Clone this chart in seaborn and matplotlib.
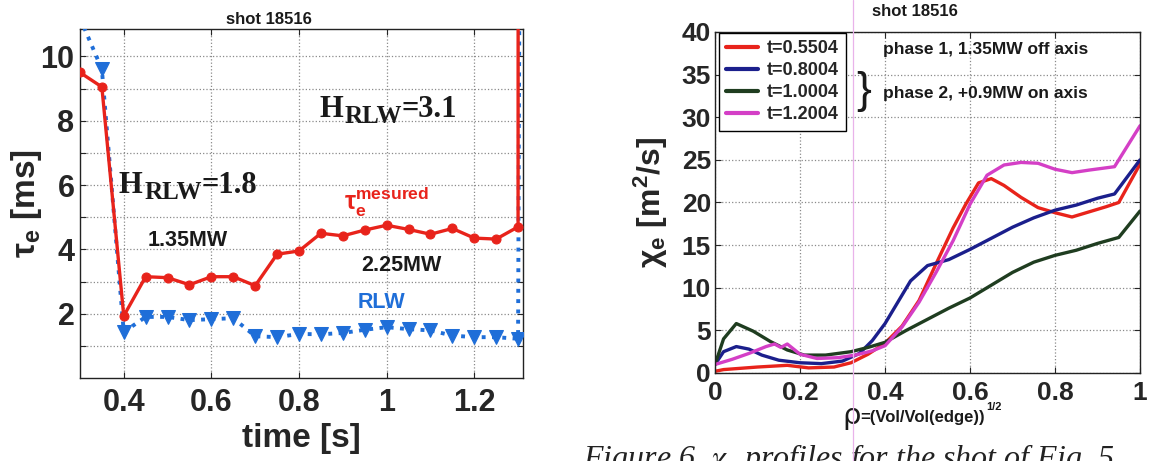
import matplotlib
matplotlib.use("Agg")
import matplotlib.pyplot as plt
import seaborn as sns
from matplotlib.lines import Line2D

# ---------------- energy confinement time, shot 18516 ----------------
time_s = [0.30, 0.35, 0.40, 0.45, 0.50, 0.55, 0.60, 0.65, 0.70, 0.75, 0.80,
          0.85, 0.90, 0.95, 1.00, 1.05, 1.10, 1.15, 1.20, 1.25, 1.30]
tau_measured = [9.50, 9.05, 1.93, 3.15, 3.12, 2.90, 3.15, 3.15, 2.87, 3.85, 3.95,
                4.50, 4.42, 4.60, 4.75, 4.62, 4.47, 4.65, 4.35, 4.32, 4.70]
tau_rlw = [11.20, 9.60, 1.43, 1.90, 1.90, 1.80, 1.83, 1.86, 1.30, 1.27, 1.37,
           1.36, 1.40, 1.50, 1.58, 1.52, 1.48, 1.32, 1.27, 1.27, 1.22]
# ramp-down samples, far above the plotted range
time_end_measured = [1.3005]
tau_end_measured = [30.0]
time_end_rlw = [1.308]
tau_end_rlw = [30.0]

# ---------------- chi_e profiles ----------------
rho_055 = [0.0, 0.02, 0.10, 0.17, 0.22, 0.28, 0.32, 0.36, 0.40, 0.44, 0.48, 0.52,
           0.56, 0.59, 0.62, 0.65, 0.68, 0.72, 0.76, 0.80, 0.84, 0.88, 0.92, 0.95, 1.0]
chi_055 = [0.2, 0.4, 0.7, 0.9, 0.6, 0.7, 1.2, 2.2, 3.5, 5.5, 8.5, 12.8,
           17.0, 19.8, 22.3, 22.8, 22.0, 20.6, 19.4, 18.8, 18.3, 18.9, 19.5, 20.0, 24.5]
rho_080 = [0.0, 0.02, 0.05, 0.08, 0.11, 0.15, 0.20, 0.25, 0.30, 0.34, 0.37, 0.40, 0.43,
           0.46, 0.50, 0.55, 0.60, 0.65, 0.70, 0.75, 0.80, 0.85, 0.90, 0.94, 1.0]
chi_080 = [1.0, 2.5, 3.1, 2.8, 2.1, 1.5, 1.2, 1.1, 1.4, 2.3, 3.8, 5.8, 8.3,
           10.8, 12.6, 13.3, 14.5, 15.8, 17.1, 18.2, 19.1, 19.7, 20.5, 21.0, 25.0]
rho_100 = [0.0, 0.02, 0.05, 0.09, 0.13, 0.17, 0.21, 0.26, 0.32, 0.36, 0.40, 0.45,
           0.50, 0.55, 0.60, 0.65, 0.70, 0.75, 0.80, 0.85, 0.90, 0.95, 1.0]
chi_100 = [1.0, 4.0, 5.8, 4.9, 3.7, 2.7, 2.1, 2.1, 2.5, 3.0, 3.6, 5.0,
           6.3, 7.6, 8.8, 10.3, 11.8, 13.0, 13.8, 14.4, 15.2, 15.9, 19.0]
rho_120 = [0.0, 0.04, 0.08, 0.12, 0.14, 0.155, 0.17, 0.20, 0.24, 0.29, 0.33, 0.37, 0.40,
           0.44, 0.48, 0.52, 0.56, 0.60, 0.64, 0.68, 0.72, 0.76, 0.80, 0.84, 0.88, 0.94, 1.0]
chi_120 = [1.0, 1.6, 2.3, 3.1, 3.4, 3.0, 3.4, 2.2, 1.7, 1.8, 2.1, 2.6, 3.2,
           5.4, 8.3, 11.8, 15.5, 19.8, 23.2, 24.4, 24.7, 24.6, 23.9, 23.5, 23.8, 24.2, 29.0]

profile_labels = ["t=0.5504", "t=0.8004", "t=1.0004", "t=1.2004"]
profile_colors = ["#e8231b", "#1b1f8c", "#1f3d20", "#d43fc6"]

x1_ticks = [0.4, 0.6, 0.8, 1.0, 1.2]
x1_ticklabels = ["0.4", "0.6", "0.8", "1", "1.2"]
y1_ticks = list(range(1, 11))
y1_ticklabels = [str(v) if v % 2 == 0 else "" for v in y1_ticks]
x2_ticks = [0.0, 0.2, 0.4, 0.6, 0.8, 1.0]
x2_ticklabels = ["0", "0.2", "0.4", "0.6", "0.8", "1"]
y2_ticks = list(range(0, 41, 5))

sns.set_style("ticks")
plt.rcParams["font.family"] = ["Liberation Sans", "DejaVu Sans"]
plt.rcParams["mathtext.fontset"] = "stix"

RED = "#e8231b"
BLUE = "#1f6ed8"
INK = "#1a1a1a"

fig = plt.figure(figsize=(11.52, 4.61), dpi=100)
ax1 = fig.add_axes([0.0694, 0.180, 0.3845, 0.757])
ax2 = fig.add_axes([0.6207, 0.1909, 0.3689, 0.7397])


def h_factor(ax, x, y, value):
    """Serif 'H_RLW=value' label with a large subscript."""
    serif = dict(family="Liberation Serif", fontweight="bold", color=INK)
    t_h = ax.text(x, y, "H", fontsize=22, ha="left", va="bottom", **serif)
    t_sub = ax.annotate("RLW", xy=(1, 0), xycoords=t_h, xytext=(1, -3.5),
                        textcoords="offset points", fontsize=18, ha="left",
                        va="bottom", **serif)
    ax.annotate("=" + value, xy=(1, 0), xycoords=(t_sub, t_h), xytext=(0, 0),
                textcoords="offset points", fontsize=22, ha="left", va="bottom",
                **serif)


# ---- left panel ----
sns.lineplot(x=time_s + time_end_rlw, y=tau_rlw + tau_end_rlw, ax=ax1,
             estimator=None, errorbar=None, sort=False, color=BLUE,
             linestyle=":", linewidth=2.8, marker="v", markersize=10,
             markeredgecolor=BLUE, markerfacecolor=BLUE, zorder=3)
sns.lineplot(x=time_s + time_end_measured, y=tau_measured + tau_end_measured, ax=ax1,
             estimator=None, errorbar=None, sort=False, color=RED,
             linestyle="-", linewidth=2.4, marker="o", markersize=6.5,
             markeredgecolor=RED, markerfacecolor=RED, zorder=4)

ax1.set_xlim(0.3, 1.311)
ax1.set_ylim(0, 10.85)
ax1.set_xticks(x1_ticks)
ax1.set_xticklabels(x1_ticklabels)
ax1.set_yticks(y1_ticks)
ax1.set_yticklabels(y1_ticklabels)

h_factor(ax1, 0.389, 5.55, "1.8")
h_factor(ax1, 0.846, 7.91, "3.1")
ax1.text(0.547, 4.28, "1.35MW", fontsize=15.5, fontweight="bold", color=INK,
         ha="center", va="center")
ax1.text(1.034, 3.50, "2.25MW", fontsize=15.5, fontweight="bold", color=INK,
         ha="center", va="center")
ax1.text(0.988, 2.34, "RLW", fontsize=15.5, fontweight="bold", color=BLUE,
         ha="center", va="center")
ax1.text(0.902, 5.22, r"$\mathregular{τ_e^{mesured}}$", fontsize=18,
         fontweight="bold", color=RED, ha="left", va="baseline")

ax1.set_xlabel("time [s]", fontsize=24, fontweight="bold")
ax1.set_ylabel(r"$\mathregular{τ_e}$ [ms]", fontsize=24, fontweight="bold")
ax1.xaxis.set_label_coords(0.5, -0.13)
ax1.yaxis.set_label_coords(-0.081, 0.5)
ax1.tick_params(axis="both", labelsize=22, direction="in", length=4,
                top=True, right=True, width=0.8)
ax1.tick_params(axis="x", pad=7)
ax1.tick_params(axis="y", pad=4)
for lab in ax1.get_xticklabels() + ax1.get_yticklabels():
    lab.set_fontweight("bold")

# ---- right panel ----
profiles = [(rho_055, chi_055), (rho_080, chi_080), (rho_100, chi_100), (rho_120, chi_120)]
for (rho, chi), lab, col in zip(profiles, profile_labels, profile_colors):
    sns.lineplot(x=rho, y=chi, ax=ax2, estimator=None, errorbar=None, sort=False,
                 color=col, linewidth=2.4, label=lab)

ax2.set_xlim(0, 1)
ax2.set_ylim(0, 40)
ax2.set_xticks(x2_ticks)
ax2.set_xticklabels(x2_ticklabels)
ax2.set_yticks(y2_ticks)
ax2.tick_params(axis="both", labelsize=19, direction="in", length=4,
                top=True, right=True, width=0.8)
ax2.tick_params(axis="x", pad=6)
ax2.tick_params(axis="y", pad=3)
for lab in ax2.get_xticklabels() + ax2.get_yticklabels():
    lab.set_fontweight("bold")

leg = ax2.legend(loc="upper left", bbox_to_anchor=(0.0094, 0.997), borderaxespad=0,
                 frameon=True, fancybox=False, edgecolor="black", framealpha=1,
                 prop={"weight": "bold", "size": 13}, handlelength=1.75,
                 labelspacing=0.28, borderpad=0.4, handletextpad=0.5)
leg.get_frame().set_linewidth(1.0)
for h in leg.get_lines():
    h.set_linewidth(3.0)

ax2.text(0.395, 37.9, "phase 1, 1.35MW off axis", fontsize=12.5, fontweight="bold",
         color=INK, ha="left", va="center")
ax2.text(0.395, 32.8, "phase 2, +0.9MW on axis", fontsize=12.5, fontweight="bold",
         color=INK, ha="left", va="center")
ax2.text(0.333, 33.0, "}", fontsize=32, color=INK, ha="left", va="center")

ax2.set_ylabel(r"$\mathregular{χ_e}$ [m$\mathregular{^2}$/s]", fontsize=23, fontweight="bold")
ax2.yaxis.set_label_coords(-0.106, 0.5)
ax2.set_xlabel("")

for ax in (ax1, ax2):
    ax.grid(True, linestyle=":", color="#8a8a8a", linewidth=0.9)
    for sp in ax.spines.values():
        sp.set_linewidth(1.0)
        sp.set_color("#222222")

# x label of the profile panel: large rho, small bold remainder
fig.text(842 / 1152, 1 - 424 / 461, "ρ", fontsize=21, ha="left", va="baseline",
         family="DejaVu Sans", color=INK)
fig.text(860 / 1152, 1 - 422 / 461, "=(Vol/Vol(edge))", fontsize=12, fontweight="bold",
         ha="left", va="baseline", color=INK)
fig.text(986 / 1152, 1 - 410 / 461, "1/2", fontsize=8, fontweight="bold",
         ha="left", va="baseline", color=INK)

# titles
fig.text(269 / 1152, 1 - 19 / 461, "shot 18516", fontsize=12, fontweight="bold",
         ha="center", va="center", color=INK)
fig.text(915 / 1152, 1 - 11 / 461, "shot 18516", fontsize=12, fontweight="bold",
         ha="center", va="center", color=INK)

# caption running off the bottom edge
fig.text(583 / 1152, 1 - 467 / 461, r"Figure 6. $\chi_e$ profiles for the shot of Fig. 5 .",
         fontsize=23, family="Liberation Serif", style="italic", ha="left",
         va="baseline", color="#222222")

# thin page marker line
fig.add_artist(Line2D([853 / 1152, 853 / 1152], [0, 1], transform=fig.transFigure,
                      color="#e9b3ea", linewidth=0.9, zorder=5))

fig.savefig("out.png", dpi=100)
